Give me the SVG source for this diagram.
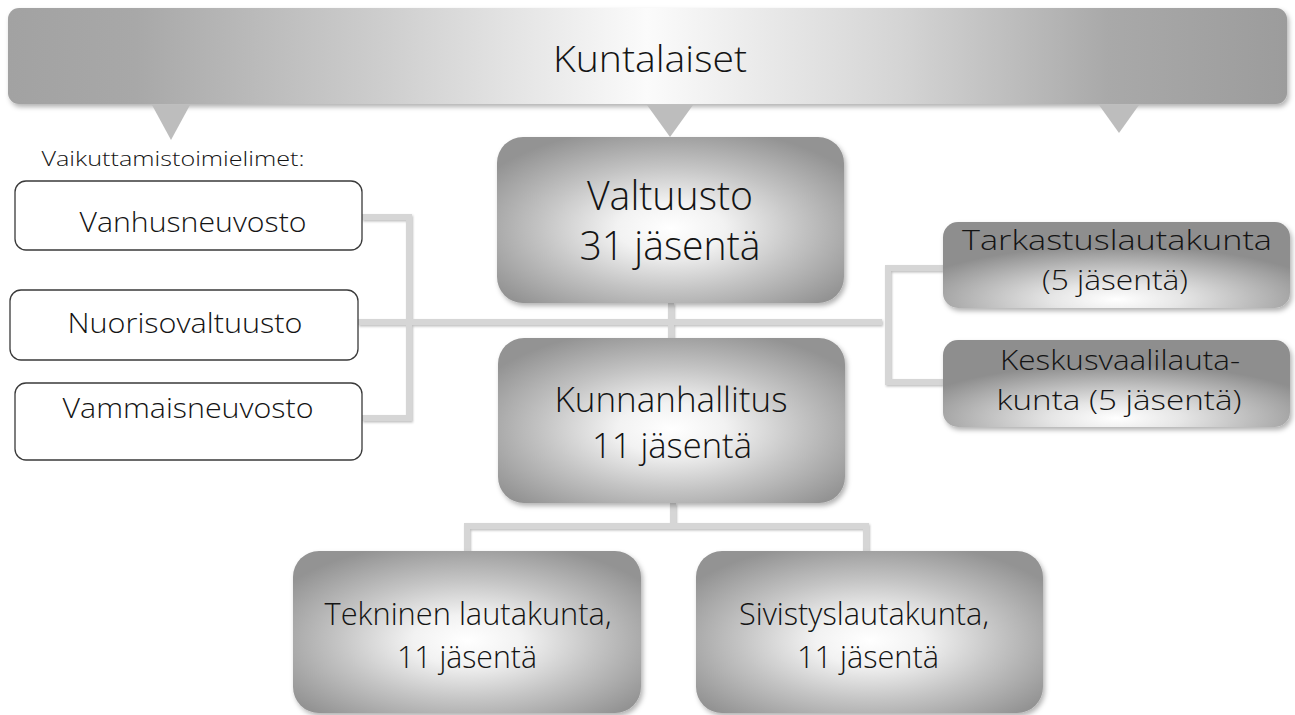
<svg xmlns="http://www.w3.org/2000/svg" width="1295" height="715" viewBox="0 0 1295 715">
<style>
  text { font-family: "Open Sans", "Noto Sans", "Liberation Sans", sans-serif; font-weight: 300; fill: #141414; text-anchor: middle; }
  .conn { fill: none; stroke: #d6d6d6; stroke-width: 6; stroke-linecap: butt; stroke-linejoin: miter; }
  .wbox { fill: #ffffff; stroke: #3a3a3a; stroke-width: 1.3; }
  .tri { fill: #bdbdbd; }
</style>
<defs>
  <linearGradient id="banner" x1="0" y1="0" x2="1" y2="0">
    <stop offset="0" stop-color="#a2a2a2"/>
    <stop offset="0.1" stop-color="#a8a8a8"/>
    <stop offset="0.3" stop-color="#cfcfcf"/>
    <stop offset="0.5" stop-color="#fbfbfb"/>
    <stop offset="0.7" stop-color="#d4d4d4"/>
    <stop offset="0.86" stop-color="#a9a9a9"/>
    <stop offset="1" stop-color="#9c9c9c"/>
  </linearGradient>
  <radialGradient id="rad" cx="0.5" cy="0.55" r="0.62">
    <stop offset="0" stop-color="#ffffff"/>
    <stop offset="0.25" stop-color="#f2f2f2"/>
    <stop offset="0.6" stop-color="#c4c4c4"/>
    <stop offset="1" stop-color="#939393"/>
  </radialGradient>
  <radialGradient id="radR" cx="0.5" cy="0.9" r="0.62">
    <stop offset="0" stop-color="#ffffff"/>
    <stop offset="0.3" stop-color="#e6e6e6"/>
    <stop offset="0.7" stop-color="#b4b4b4"/>
    <stop offset="1" stop-color="#8e8e8e"/>
  </radialGradient>
  <filter id="shadow" x="-10%" y="-10%" width="125%" height="130%">
    <feDropShadow dx="2" dy="3" stdDeviation="2.5" flood-color="#000" flood-opacity="0.3"/>
  </filter>
  <filter id="lshadow" x="-5%" y="-5%" width="115%" height="115%">
    <feDropShadow dx="1" dy="1.5" stdDeviation="0.8" flood-color="#000" flood-opacity="0.25"/>
  </filter>
</defs>

<g id="connectors" filter="url(#lshadow)">
  <polyline class="conn" points="362,217 409,217 409,418 362,418"/>
  <line class="conn" x1="358" y1="322" x2="882" y2="322"/>
  <polyline class="conn" points="943,268 888,268 888,382 943,382"/>
  <line class="conn" x1="671" y1="303" x2="671" y2="338"/>
  <polyline class="conn" points="467,552 467,526 866,526 866,552"/>
  <line class="conn" x1="673" y1="503" x2="673" y2="526"/>
</g>

<g id="kuntalaiset">
  <rect x="8" y="8" width="1279" height="96" rx="11" fill="url(#banner)" filter="url(#shadow)"/>
  <polygon class="tri" points="152,105 190,105 171,140"/>
  <polygon class="tri" points="647,105 693,105 670,137"/>
  <polygon class="tri" points="1099,105 1139,105 1119,133"/>
  <text x="650" y="72" font-size="36" textLength="194" lengthAdjust="spacingAndGlyphs">Kuntalaiset</text>
</g>

<g id="vaikuttamistoimielimet-label">
  <text x="173" y="166" font-size="21" textLength="263" lengthAdjust="spacingAndGlyphs">Vaikuttamistoimielimet:</text>
</g>

<g id="vanhusneuvosto">
  <rect class="wbox" x="15" y="181" width="347" height="69" rx="11"/>
  <text x="193" y="232" font-size="28" textLength="227" lengthAdjust="spacingAndGlyphs">Vanhusneuvosto</text>
</g>
<g id="nuorisovaltuusto">
  <rect class="wbox" x="10" y="290" width="348" height="70" rx="11"/>
  <text x="185" y="333" font-size="28" textLength="235" lengthAdjust="spacingAndGlyphs">Nuorisovaltuusto</text>
</g>
<g id="vammaisneuvosto">
  <rect class="wbox" x="15" y="383" width="347" height="77" rx="11"/>
  <text x="188" y="418" font-size="28" textLength="251" lengthAdjust="spacingAndGlyphs">Vammaisneuvosto</text>
</g>

<g id="valtuusto">
  <rect x="497" y="137" width="347" height="166" rx="26" fill="url(#rad)" filter="url(#shadow)"/>
  <text x="670" y="210" font-size="40" textLength="166" lengthAdjust="spacingAndGlyphs">Valtuusto</text>
  <text x="670" y="260" font-size="40" textLength="181" lengthAdjust="spacingAndGlyphs">31 jäsentä</text>
</g>

<g id="kunnanhallitus">
  <rect x="498" y="338" width="347" height="165" rx="26" fill="url(#rad)" filter="url(#shadow)"/>
  <text x="671" y="412" font-size="35" textLength="233" lengthAdjust="spacingAndGlyphs">Kunnanhallitus</text>
  <text x="672" y="458" font-size="35" textLength="160" lengthAdjust="spacingAndGlyphs">11 jäsentä</text>
</g>

<g id="tarkastuslautakunta">
  <rect x="943" y="222" width="347" height="86" rx="15" fill="url(#radR)" filter="url(#shadow)"/>
  <text x="1117" y="250" font-size="28" textLength="310" lengthAdjust="spacingAndGlyphs">Tarkastuslautakunta</text>
  <text x="1115" y="290" font-size="28" textLength="146" lengthAdjust="spacingAndGlyphs">(5 jäsentä)</text>
</g>

<g id="keskusvaalilautakunta">
  <rect x="943" y="340" width="347" height="87" rx="15" fill="url(#radR)" filter="url(#shadow)"/>
  <text x="1120" y="370" font-size="28" textLength="240" lengthAdjust="spacingAndGlyphs">Keskusvaalilauta-</text>
  <text x="1119" y="410" font-size="28" textLength="245" lengthAdjust="spacingAndGlyphs">kunta (5 jäsentä)</text>
</g>

<g id="tekninen">
  <rect x="293" y="551" width="348" height="162" rx="26" fill="url(#rad)" filter="url(#shadow)"/>
  <text x="468" y="625" font-size="31" textLength="287" lengthAdjust="spacingAndGlyphs">Tekninen lautakunta,</text>
  <text x="467" y="668" font-size="31" textLength="140" lengthAdjust="spacingAndGlyphs">11 jäsentä</text>
</g>

<g id="sivistys">
  <rect x="696" y="551" width="347" height="162" rx="26" fill="url(#rad)" filter="url(#shadow)"/>
  <text x="864" y="625" font-size="31" textLength="250" lengthAdjust="spacingAndGlyphs">Sivistyslautakunta,</text>
  <text x="868" y="668" font-size="31" textLength="142" lengthAdjust="spacingAndGlyphs">11 jäsentä</text>
</g>
</svg>
